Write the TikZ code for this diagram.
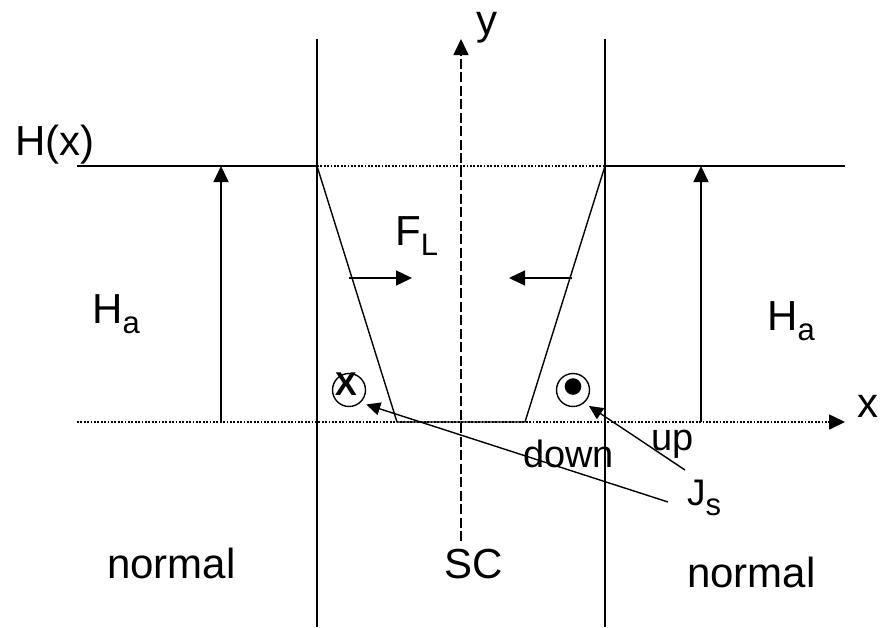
\documentclass[tikz,border=0pt]{standalone}
\usepackage{fontspec}
\setmainfont{Liberation Sans}
\usetikzlibrary{arrows.meta, calc}

\newcommand{\subtxt}[1]{\raisebox{-10pt}{\fontsize{31}{31}\selectfont #1}}

\begin{document}
\begin{tikzpicture}[x=1pt, y=-1pt,
    wall/.style={line width=1.6pt},
    dots/.style={line width=1.8pt, dash pattern=on 1.8pt off 1.6pt},
    edge/.style={line width=1.4pt},
    tip/.style={-{Triangle[length=16pt, width=15pt]}, line width=1.6pt},
    jtip/.style={-{Triangle[length=14pt, width=13pt]}, line width=1.4pt},
    lbl/.style={anchor=base west, inner sep=0pt, font=\fontsize{42}{42}\selectfont},
    small/.style={anchor=base west, inner sep=0pt, font=\fontsize{38}{38}\selectfont},
    vortex/.style={circle, draw, line width=1.4pt, minimum size=33pt, inner sep=0pt, outer sep=6pt}
  ]
    \useasboundingbox (0,0) rectangle (880,627);

    % corner points of the field profile
    \coordinate (hl) at (77,166);
    \coordinate (hr) at (845,166);
    \coordinate (xl) at (77,422);
    \coordinate (xr) at (845,422);
    \coordinate (tl) at (317,166);
    \coordinate (tr) at (605,166);
    \coordinate (bl) at (397,422);
    \coordinate (br) at (525,422);

    % walls of the slab and the y axis
    \draw[wall] (317,39) -- (317,627);
    \draw[wall] (605,39) -- (605,627);
    \draw[tip, dash pattern=on 10pt off 3.5pt] (461,541) -- (461,39);

    % applied field and x axis
    \draw[wall] (hl) -- (tl);
    \draw[dots] (tl) -- (tr);
    \draw[wall] (tr) -- (hr);
    \draw[dots, tip] (xl) -- (xr);

    % field profile inside
    \draw[edge] (tl) -- (bl) -- (br) -- (tr);

    % H_a arrows
    \draw[tip] (221,422) -- (221,166);
    \draw[tip] (701,422) -- (701,166);

    % Lorentz force
    \draw[tip, line width=1.4pt] (349,278) -- (412,278);
    \draw[tip, line width=1.4pt] (572,278) -- (509,278);

    % currents
    \node[vortex] (cin) at (349,390) {};
    \node[inner sep=0pt, xshift=-3pt, yshift=6pt, font=\fontsize{33}{33}\selectfont\bfseries] (cinx) at (cin) {X};
    \node[vortex] (cout) at (573,390) {};
    \fill (573,386.5) circle (8.3);

    \coordinate (js1) at (668,502);
    \coordinate (js2) at (685,470);
    \draw[jtip] (js1) -- (cin.-40);
    \draw[jtip] (js2) -- (cout.-45);

    % labels
    \node[lbl] (hx) at (15,155) {H(x)};
    \node[lbl] (y) at (476,34) {y};
    \node[lbl] (x) at (857,417) {x};
    \node[lbl] (hal) at (92,323) {H\subtxt{a}};
    \node[lbl] (har) at (767,330) {H\subtxt{a}};
    \node[lbl] (fl) at (395,245) {F\subtxt{L}};
    \node[small] (down) at (523,467) {down};
    \node[small] (up) at (651,450) {up};
    \node[anchor=base west, inner sep=0pt, font=\fontsize{37}{37}\selectfont] (js) at (687,505) {J\subtxt{s}};
    \node[lbl] (nl) at (107,578) {normal};
    \node[lbl] (sc) at (444,578) {SC};
    \node[lbl] (nr) at (687,587) {normal};
  \end{tikzpicture}
\end{document}
